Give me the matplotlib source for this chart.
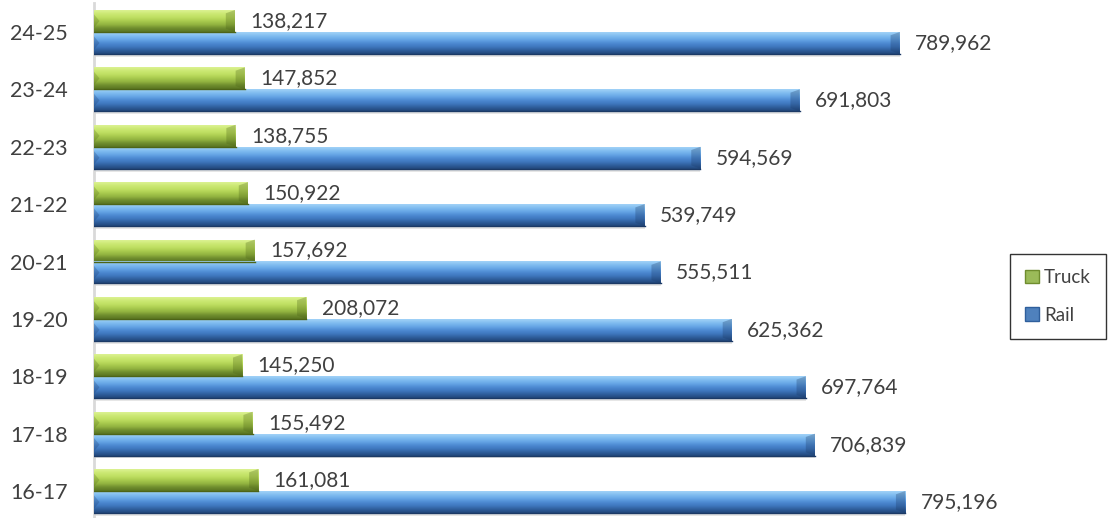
import matplotlib
matplotlib.use("Agg")
import matplotlib.pyplot as plt
import numpy as np
from matplotlib.colors import LinearSegmentedColormap
from matplotlib.patches import Patch

# данные
years = ["16-17", "17-18", "18-19", "19-20", "20-21", "21-22", "22-23", "23-24", "24-25"]
truck = [161081, 155492, 145250, 208072, 157692, 150922, 138755, 147852, 138217]
rail = [795196, 706839, 697764, 625362, 555511, 539749, 594569, 691803, 789962]

plt.rcParams['font.family'] = ['Lato', 'DejaVu Sans']

# градиенты (снизу вверх)
green_cmap = LinearSegmentedColormap.from_list(
    "g", ["#5a7522", "#6f8d2e", "#92b340", "#a9cb4e", "#bfdf62", "#cbe872", "#dcf292"])
blue_cmap = LinearSegmentedColormap.from_list(
    "b", ["#22467a", "#2f5f9c", "#3f78bf", "#4e8bd3", "#67a7e6", "#80bdf0", "#a2d2f7"])

fig = plt.figure(figsize=(11.16, 5.18), dpi=100)
ax = fig.add_axes([94 / 1116, 0, 918 / 1116, 515 / 518])

y = np.arange(len(years))
h = 0.383
grad = np.linspace(0, 1, 64).reshape(-1, 1)

bars_t = ax.barh(y + h / 2, truck, height=h, color="#9bbb59", zorder=2)
bars_r = ax.barh(y - h / 2, rail, height=h, color="#4f81bd", zorder=2)


def shade(bars, cmap, edge):
    for b in bars:
        x0, y0 = b.get_x(), b.get_y()
        w, hh = b.get_width(), b.get_height()
        # тень под столбиком
        ax.fill_between([x0, x0 + w], y0 - 0.05, y0, color="#e6e6e6", zorder=1, lw=0)
        ax.imshow(grad, cmap=cmap, aspect="auto", origin="lower",
                  extent=[x0, x0 + w, y0, y0 + hh], zorder=3, interpolation="bicubic")
        # скос на концах
        d = 9000
        ax.fill([x0 + w - d, x0 + w, x0 + w, x0 + w - d],
                [y0 + hh * 0.15, y0, y0 + hh, y0 + hh * 0.85],
                color=edge, alpha=0.3, zorder=4, lw=0)
        ax.fill([x0, x0 + d * 0.6, x0],
                [y0 + hh * 0.2, y0 + hh * 0.5, y0 + hh * 0.8],
                color=edge, alpha=0.25, zorder=4, lw=0)
        ax.plot([x0, x0 + w], [y0, y0], color=edge, lw=1, zorder=4)


shade(bars_t, green_cmap, "#4d6418")
shade(bars_r, blue_cmap, "#1c3a66")

for i in range(len(years)):
    ax.text(truck[i] + 15000, y[i] + h / 2, f"{truck[i]:,}", va="center", ha="left",
            fontsize=15, color="#404040")
    ax.text(rail[i] + 15000, y[i] - h / 2, f"{rail[i]:,}", va="center", ha="left",
            fontsize=15, color="#404040")

ax.set_xlim(0, 900000)
ax.set_ylim(-0.47, 8.505)
ax.set_yticks(y)
ax.set_yticklabels(years, fontsize=15.5, color="#404040")
ax.tick_params(axis="y", length=0, pad=19)
ax.set_xticks([])
for s in ["top", "right", "bottom"]:
    ax.spines[s].set_visible(False)
ax.spines["left"].set_color("#d9d9d9")
ax.spines["left"].set_linewidth(2)

handles = [Patch(facecolor="#9bbb59", edgecolor="#6f8d2e"),
           Patch(facecolor="#4f81bd", edgecolor="#2f5f9c")]
leg = fig.legend(handles, ["Truck", "Rail"], loc="upper right",
                 bbox_to_anchor=(1106 / 1116, 1 - 254 / 518), fontsize=13.5,
                 frameon=True, fancybox=False, handlelength=0.75, handleheight=0.75,
                 handletextpad=0.25, labelspacing=1.1, borderpad=0.8,
                 borderaxespad=0, labelcolor="#404040")
leg.get_frame().set_edgecolor("#000000")
leg.get_frame().set_linewidth(1)

fig.savefig("out.png", dpi=100)
